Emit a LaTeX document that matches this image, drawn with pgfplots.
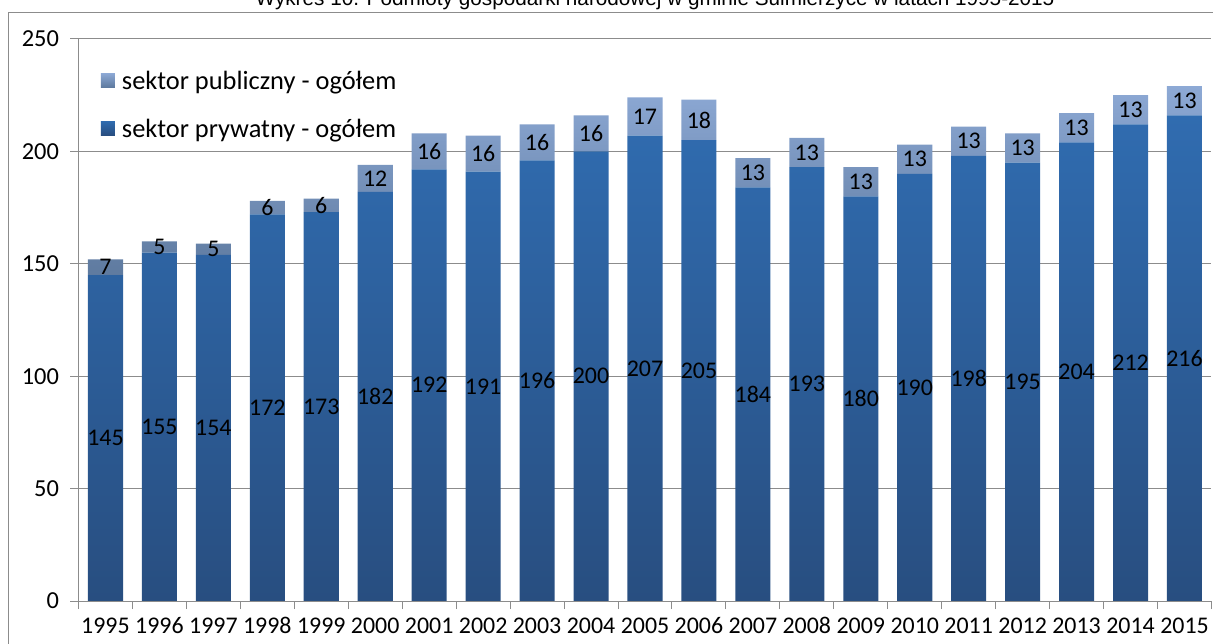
\documentclass[border=0pt]{standalone}
\usepackage{fontspec}
\setmainfont{Carlito}
\newfontfamily\arial{Liberation Sans}
\usepackage{pgfplots}
\usepackage{pgfplotstable}
\pgfplotsset{compat=1.18}

\definecolor{privtop}{RGB}{48,108,176}
\definecolor{privbot}{RGB}{40,78,128}
\definecolor{pubtop}{RGB}{141,169,213}
\definecolor{pubbot}{RGB}{94,122,159}
\definecolor{gridgray}{RGB}{140,140,140}

% x: position, year, private sector, public sector
\pgfplotstableread{
x year priv pub
0 1995 145 7
1 1996 155 5
2 1997 154 5
3 1998 172 6
4 1999 173 6
5 2000 182 12
6 2001 192 16
7 2002 191 16
8 2003 196 16
9 2004 200 16
10 2005 207 17
11 2006 205 18
12 2007 184 13
13 2008 193 13
14 2009 180 13
15 2010 190 13
16 2011 198 13
17 2012 195 13
18 2013 204 13
19 2014 212 13
20 2015 216 13
}\data

\begin{document}
\begin{tikzpicture}
\useasboundingbox (0,0) rectangle (1213bp,644bp);
\draw[gridgray, line width=1bp] (8bp,-20bp) -- (8bp,631bp) -- (1240bp,631bp);
\node[font=\arial\fontsize{20.8}{24}\selectfont, anchor=base] at (655bp,638bp)
  {Wykres 10. Podmioty gospodarki narodowej w gminie Sulmierzyce w latach 1995-2015};
\begin{axis}[
  at={(78.5bp,43bp)}, anchor=south west,
  scale only axis, width=1133bp, height=562bp,
  xmin=-0.5, xmax=20.5, ymin=0, ymax=250,
  ybar stacked, bar width=0.65,
  axis lines=left, axis line style={-, gridgray, line width=1bp},
  xtick={0,...,20},
  xticklabels from table={\data}{year},
  major x tick style={draw=none},
  minor xtick={-0.5,0.5,...,20.5},
  minor x tick style={gridgray, line width=1bp},
  minor tick length=8bp,
  ytick={0,50,...,250},
  ytick style={gridgray, line width=1bp},
  major tick length=8bp,
  tick align=outside,
  ymajorgrids, grid style={gridgray, line width=1bp},
  /pgf/number format/assume math mode=true,
  yticklabel style={font=\fontsize{24.5}{24}\selectfont, xshift=-8bp},
  xticklabel style={font=\fontsize{24}{24}\selectfont, yshift=-5bp},
  reverse legend,
  legend style={at={(0.017,0.95)}, anchor=north west, draw=none, fill=none,
    font=\fontsize{26.5}{30}\selectfont, row sep=24bp},
  legend cell align=left,
  legend image code/.code={\path[#1, draw=none] (0bp,-6bp) rectangle (14bp,8bp);
    \path (19bp,0bp);},
  visualization depends on=rawy \as \rawy,
  nodes near coords={\pgfmathprintnumber{\rawy}},
  every node near coord/.append style={anchor=center, text=black,
    font=\fontsize{24}{24}\selectfont},
]
\addplot[draw=none, top color=privtop, bottom color=privbot]
  table[x=x, y=priv] {\data};
\addlegendentry{sektor prywatny - ogółem}
\addplot[draw=none, top color=pubtop, bottom color=pubbot]
  table[x=x, y=pub] {\data};
\addlegendentry{sektor publiczny - ogółem}
\end{axis}
\end{tikzpicture}
\end{document}
